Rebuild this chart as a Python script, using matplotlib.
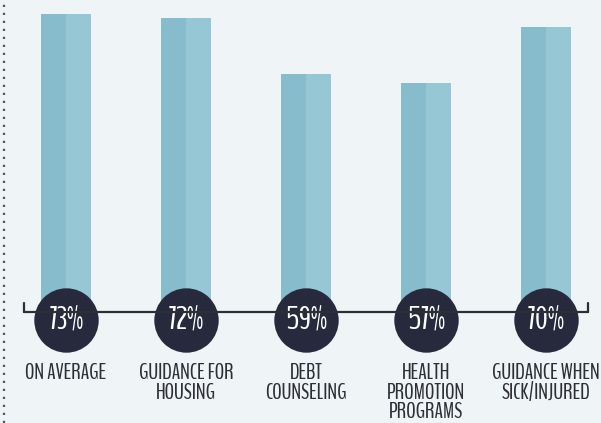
#!/usr/bin/env python3
"""Share of respondents using each employer support service, as a bar chart
with round percentage badges sitting on the baseline."""
import numpy as np
import matplotlib.pyplot as plt
from matplotlib import transforms
from matplotlib.lines import Line2D

categories = ["ON AVERAGE", "GUIDANCE FOR\nHOUSING", "DEBT\nCOUNSELING",
              "HEALTH\nPROMOTION\nPROGRAMS", "GUIDANCE WHEN\nSICK/INJURED"]
values = [73, 72, 59, 57, 70]
value_labels = ["73%", "72%", "59%", "57%", "70%"]

BG = "#eff4f6"
BAR_DARK = "#86bccb"
BAR_LIGHT = "#95c7d5"
BADGE = "#272a3c"
INK = "#2f3036"
NARROW = ["BenchNine", "Pathway Gothic One", "DejaVu Sans"]

W, H = 601, 423
fig = plt.figure(figsize=(W / 100, H / 100), dpi=100, facecolor=BG)

# axes spans from the top edge down to the baseline (y = 312 px)
base_px = 312
ax = fig.add_axes([0, (H - base_px) / H, 1, base_px / H])
ax.set_facecolor(BG)
x = np.arange(len(values))
ax.set_xlim(-66 / 120, (W - 66) / 120)
ax.set_ylim(3.6, 76.2)
for s in ax.spines.values():
    s.set_visible(False)
ax.set_xticks([])
ax.set_yticks([])

# two-tone bars: darker left half, lighter right half
bw = 0.41
ax.bar(x - bw / 4, values, width=bw / 2, color=BAR_DARK, linewidth=0)
ax.bar(x + bw / 4, values, width=bw / 2, color=BAR_LIGHT, linewidth=0)

# baseline with small upturned ends
line_kw = dict(color="#2e2f36", lw=1.6, solid_capstyle="round")
fig.add_artist(Line2D([24 / W, 588 / W], [(H - 312) / H] * 2, **line_kw))
fig.add_artist(Line2D([24 / W, 24 / W], [(H - 312) / H, (H - 303) / H], **line_kw))
fig.add_artist(Line2D([588 / W, 588 / W], [(H - 312) / H, (H - 303) / H], **line_kw))

# dotted rule down the left edge
fig.add_artist(Line2D([3.5 / W, 3.5 / W], [0, 1], color="#55575e", lw=1.6,
                      linestyle=(0, (1, 2.6))))

# round badges centred 8 px below the baseline
trans = transforms.blended_transform_factory(ax.transData, ax.transAxes)
badge_y = -8 / base_px
ax.scatter(x, [badge_y] * len(x), s=2150, color=BADGE, transform=trans,
           clip_on=False, zorder=3, linewidths=0)
for xi, lab in zip(x, value_labels):
    ax.text(xi, badge_y, lab, transform=trans, ha="center", va="center",
            color="white", fontsize=23, family=NARROW, zorder=4, clip_on=False)

# category names under the badges
for xi, cat in zip(x, categories):
    ax.text(xi, -51 / base_px, cat, transform=trans, ha="center", va="top",
            color=INK, fontsize=15.5, family=NARROW, linespacing=0.98,
            clip_on=False)

fig.savefig("out.png", dpi=100, facecolor=BG)
